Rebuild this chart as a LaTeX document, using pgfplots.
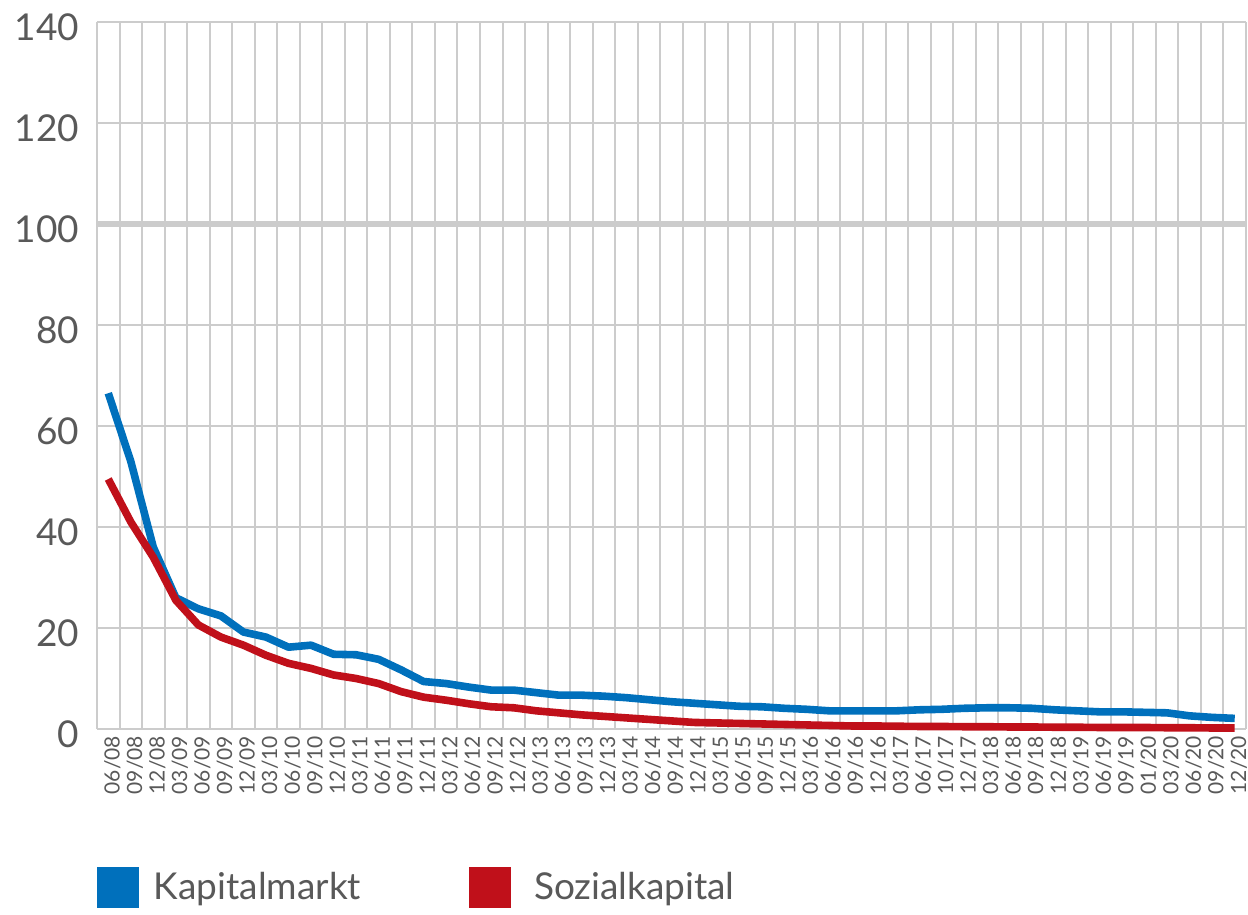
\documentclass[border=0pt]{standalone}
\usepackage{pgfplots}
\pgfplotsset{compat=1.18}
\usepackage{pgfplotstable}
\usepackage{fontspec}
\setmainfont{Lato}
\definecolor{kblue}{RGB}{0,112,188}
\definecolor{sred}{RGB}{192,16,26}
\definecolor{txt}{RGB}{89,89,89}
\definecolor{grd}{RGB}{204,204,204}
\pgfplotstableread{
x k s
0 66.5 49.5
1 53 41
2 36 34
3 26 25.5
4 23.8 20.6
5 22.4 18.2
6 19.2 16.6
7 18.2 14.6
8 16.2 13
9 16.6 12
10 14.8 10.7
11 14.7 10
12 13.8 9
13 11.7 7.4
14 9.4 6.3
15 9.0 5.7
16 8.3 5
17 7.7 4.4
18 7.7 4.2
19 7.2 3.6
20 6.7 3.2
21 6.7 2.8
22 6.5 2.5
23 6.2 2.2
24 5.8 1.9
25 5.4 1.6
26 5.1 1.3
27 4.8 1.2
28 4.5 1.1
29 4.4 1.0
30 4.1 0.9
31 3.9 0.8
32 3.6 0.7
33 3.6 0.6
34 3.6 0.6
35 3.6 0.55
36 3.8 0.5
37 3.9 0.5
38 4.1 0.45
39 4.2 0.45
40 4.2 0.4
41 4.1 0.4
42 3.8 0.35
43 3.6 0.35
44 3.4 0.3
45 3.4 0.3
46 3.3 0.3
47 3.2 0.25
48 2.6 0.25
49 2.3 0.2
50 2.1 0.2
}\datatab
\pgfplotsset{sqlegend/.style={legend image code/.code={%
  \path[draw=none, fill=none] (0pt,0pt) -- (#1,0pt);
  \fill[##1, draw=none] (0pt,-10.25pt) rectangle (21pt,10.25pt);}}}
\begin{document}
\begin{tikzpicture}
\useasboundingbox (-48.5pt,-93pt) rectangle (575.5pt,364.5pt);
\begin{axis}[
  at={(0,0)}, anchor=south west,
  scale only axis, width=574.5pt, height=353.5pt,
  xmin=-0.5, xmax=50.5, ymin=0, ymax=140,
  ytick={0,20,...,140},
  xtick={0,...,50},
  xticklabels={06/08,09/08,12/08,03/09,06/09,09/09,12/09,03/10,06/10,09/10,12/10,03/11,06/11,09/11,12/11,03/12,06/12,09/12,12/12,03/13,06/13,09/13,12/13,03/14,06/14,09/14,12/14,03/15,06/15,09/15,12/15,03/16,06/16,09/16,12/16,03/17,06/17,10/17,12/17,03/18,06/18,09/18,12/18,03/19,06/19,09/19,01/20,03/20,06/20,09/20,12/20},
  minor xtick={-0.5,0.5,...,50.5},
  xminorgrids=true, ymajorgrids=true,
  grid style={draw=grd, line width=1pt},
  minor grid style={draw=grd, line width=1pt},
  major tick length=0pt, minor tick length=0pt,
  axis line style={draw=none},
  extra y ticks={100}, extra y tick labels={},
  extra y tick style={grid style={draw=grd, line width=3pt}},
  /pgf/number format/assume math mode=true,
  yticklabel style={font=\fontsize{18.5}{20}\selectfont, text=txt, anchor=east, xshift=-5.5pt, yshift=-2.5pt},
  xticklabel style={font=\fontsize{10.5}{11}\selectfont, text=txt, rotate=90, anchor=east, yshift=-2pt},
  clip=false,
  legend columns=2,
  legend style={at={(axis description cs:0,-0.2242)}, anchor=west, draw=none, inner sep=0pt, outer sep=0pt,
     font=\fontsize{18.5}{20}\selectfont, text=txt,
     /tikz/every even column/.append style={column sep=54pt},
     /tikz/every odd column/.append style={column sep=0pt},
     nodes={inner sep=0pt, outer sep=0pt, anchor=west}},
]
\addplot[kblue, line width=3.8pt, line join=round, sqlegend=28.5pt] table[x=x,y=k] {\datatab};
\addlegendentry{Kapitalmarkt}
\addplot[sred, line width=3.8pt, line join=round, sqlegend=32.5pt] table[x=x,y=s] {\datatab};
\addlegendentry{Sozialkapital}
\end{axis}
\end{tikzpicture}
\end{document}
